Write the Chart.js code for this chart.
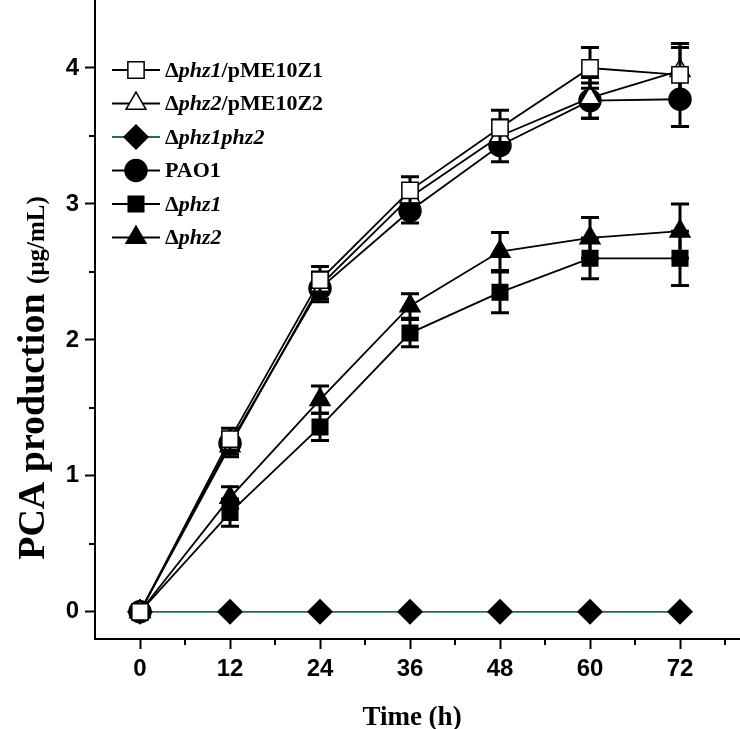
<!DOCTYPE html>
<html><head><meta charset="utf-8">
<script src="https://cdn.jsdelivr.net/npm/chart.js@4.4.0/dist/chart.umd.min.js"></script>
<style>html,body{margin:0;padding:0;background:#fff}canvas{display:block}</style>
</head><body><canvas id="c" width="740" height="729" style="width:740px;height:729px"></canvas>
<script>
// ---------- data ----------
const hours = [0, 12, 24, 36, 48, 60, 72];
const xTicks = [0, 12, 24, 36, 48, 60, 72];
const xMinorTicks = [6, 18, 30, 42, 54, 66, 78];
const yTicks = [0, 1, 2, 3, 4];
const yMinorTicks = [0.5, 1.5, 2.5, 3.5];

const comp1Values = [0, 1.27, 2.44, 3.10, 3.56, 4.00, 3.95];
const comp1Err    = [0, 0.08, 0.10, 0.10, 0.13, 0.15, 0.20];
const comp2Values = [0, 1.22, 2.40, 3.05, 3.50, 3.78, 3.98];
const comp2Err    = [0, 0.08, 0.10, 0.08, 0.12, 0.15, 0.20];
const doubleValues = [0, 0, 0, 0, 0, 0, 0];
const doubleErr    = [0, 0, 0, 0, 0, 0, 0];
const pao1Values = [0, 1.24, 2.38, 2.95, 3.43, 3.76, 3.77];
const pao1Err    = [0, 0.08, 0.10, 0.09, 0.12, 0.13, 0.20];
const phz1Values = [0, 0.73, 1.36, 2.05, 2.35, 2.60, 2.60];
const phz1Err    = [0, 0.10, 0.10, 0.10, 0.15, 0.15, 0.20];
const phz2Values = [0, 0.84, 1.56, 2.25, 2.65, 2.75, 2.80];
const phz2Err    = [0, 0.08, 0.10, 0.09, 0.14, 0.15, 0.20];

// legend label pieces: [text, italic?]
const comp1Label = [['Δ', false], ['phz1', true], ['/pME10Z1', false]];
const comp2Label = [['Δ', false], ['phz2', true], ['/pME10Z2', false]];
const doubleLabel = [['Δ', false], ['phz1phz2', true]];
const pao1Label = [['PAO1', false]];
const phz1Label = [['Δ', false], ['phz1', true]];
const phz2Label = [['Δ', false], ['phz2', true]];

const xTitle = 'Time (h)';
const yTitleMain = 'PCA production ';
const yTitleUnit = '(μg/mL)';

// ---------- chart ----------
const SERIF = '"Liberation Serif", "Times New Roman", serif';
const SANS = '"Liberation Sans", Arial, sans-serif';

function ds(values, err, label, style, radius, fill, lineColor) {
  return {
    data: hours.map((h, i) => ({x: h, y: values[i]})),
    errors: err,
    legendParts: label,
    borderColor: lineColor || '#000',
    borderWidth: 1.8,
    tension: 0,
    pointStyle: style,
    pointRadius: radius,
    pointHoverRadius: radius,
    pointBackgroundColor: fill,
    pointBorderColor: '#000',
    pointBorderWidth: 1.5,
    clip: false
  };
}

const datasets = [
  ds(comp1Values, comp1Err, comp1Label, 'rect', 11.5, '#fff'),
  ds(comp2Values, comp2Err, comp2Label, 'triangle', 11.5, '#fff'),
  ds(doubleValues, doubleErr, doubleLabel, 'rectRot', 12, '#000', '#1f6a6a'),
  ds(pao1Values, pao1Err, pao1Label, 'circle', 11, '#000'),
  ds(phz1Values, phz1Err, phz1Label, 'rect', 11, '#000'),
  ds(phz2Values, phz2Err, phz2Label, 'triangle', 11.5, '#000')
];

const errorBarPlugin = {
  id: 'errorBars',
  beforeDatasetDraw(chart, args) {
    const dsx = chart.data.datasets[args.index];
    const x = chart.scales.x, y = chart.scales.y, ctx = chart.ctx;
    ctx.save();
    ctx.strokeStyle = '#000';
    ctx.lineWidth = 3;
    dsx.data.forEach((p, i) => {
      const e = dsx.errors[i];
      if (!e) return;
      const px = x.getPixelForValue(p.x);
      const top = y.getPixelForValue(p.y + e), bot = y.getPixelForValue(p.y - e);
      ctx.beginPath();
      ctx.moveTo(px, top); ctx.lineTo(px, bot);
      ctx.moveTo(px - 9, top); ctx.lineTo(px + 9, top);
      ctx.moveTo(px - 9, bot); ctx.lineTo(px + 9, bot);
      ctx.stroke();
    });
    ctx.restore();
  }
};

const minorTickPlugin = {
  id: 'minorTicks',
  afterDraw(chart) {
    const ctx = chart.ctx, x = chart.scales.x, y = chart.scales.y, a = chart.chartArea;
    ctx.save();
    ctx.strokeStyle = '#000';
    ctx.lineWidth = 2;
    ctx.beginPath();
    xMinorTicks.forEach(v => {
      const px = Math.round(x.getPixelForValue(v));
      ctx.moveTo(px, a.bottom); ctx.lineTo(px, a.bottom + 6);
    });
    yMinorTicks.forEach(v => {
      const py = Math.round(y.getPixelForValue(v));
      ctx.moveTo(a.left, py); ctx.lineTo(a.left - 6, py);
    });
    ctx.stroke();
    ctx.restore();
  }
};

const legendPlugin = {
  id: 'customLegend',
  afterDraw(chart) {
    const ctx = chart.ctx;
    const x0 = 112, x1 = 160, xm = 136, tx = 165, y0 = 70, dy = 33.5;
    chart.data.datasets.forEach((d, i) => {
      const yy = y0 + dy * i;
      ctx.save();
      ctx.strokeStyle = d.borderColor;
      ctx.lineWidth = 2;
      ctx.beginPath(); ctx.moveTo(x0, yy); ctx.lineTo(x1, yy); ctx.stroke();
      ctx.fillStyle = d.pointBackgroundColor;
      ctx.strokeStyle = '#000';
      ctx.lineWidth = 1.5;
      Chart.helpers.drawPoint(ctx, {pointStyle: d.pointStyle, radius: d.pointRadius, rotation: 0, borderWidth: 1.5}, xm, yy);
      ctx.restore();
      ctx.save();
      ctx.fillStyle = '#000';
      ctx.textBaseline = 'middle';
      let cx = tx;
      d.legendParts.forEach(([t, it]) => {
        ctx.font = (it ? 'italic ' : '') + 'bold 22px ' + SERIF;
        ctx.fillText(t, cx, yy + 1);
        cx += ctx.measureText(t).width;
      });
      ctx.restore();
    });
  }
};

const titlePlugin = {
  id: 'axisTitles',
  afterDraw(chart) {
    const ctx = chart.ctx;
    ctx.save();
    ctx.fillStyle = '#000';
    ctx.textBaseline = 'alphabetic';
    ctx.textAlign = 'center';
    ctx.font = 'bold 27px ' + SERIF;
    ctx.fillText(xTitle, 412, 725);
    ctx.restore();

    ctx.save();
    ctx.translate(44, 378);
    ctx.rotate(-Math.PI / 2);
    ctx.fillStyle = '#000';
    ctx.textBaseline = 'alphabetic';
    ctx.font = 'bold 38px ' + SERIF;
    const w1 = ctx.measureText(yTitleMain).width;
    ctx.font = 'bold 25px ' + SERIF;
    const w2 = ctx.measureText(yTitleUnit).width;
    let sx = -(w1 + w2) / 2;
    ctx.font = 'bold 38px ' + SERIF;
    ctx.fillText(yTitleMain, sx, 0);
    ctx.font = 'bold 25px ' + SERIF;
    ctx.fillText(yTitleUnit, sx + w1, 0);
    ctx.restore();
  }
};

new Chart(document.getElementById('c'), {
  type: 'line',
  data: {datasets},
  options: {
    responsive: false,
    animation: false,
    devicePixelRatio: 1,
    layout: {autoPadding: false, padding: {top: 0, right: 0, left: 0, bottom: 0}},
    plugins: {legend: {display: false}, tooltip: {enabled: false}},
    scales: {
      x: {
        type: 'linear', min: -6, max: 80,
        afterFit(s) { s.height = 90; s.paddingLeft = 0; s.paddingRight = 0; },
        afterBuildTicks(s) { s.ticks = xTicks.map(v => ({value: v})); },
        border: {display: true, color: '#000', width: 2},
        grid: {display: true, drawOnChartArea: false, drawTicks: true, tickLength: 10, tickColor: '#000', tickWidth: 2, color: '#000'},
        ticks: {color: '#000', font: {family: SANS, size: 24, weight: 'bold'}, padding: 6, maxRotation: 0, autoSkip: false}
      },
      y: {
        type: 'linear', min: -0.2, max: 4.5,
        afterFit(s) { s.width = 95; s.paddingTop = 0; s.paddingBottom = 0; },
        afterBuildTicks(s) { s.ticks = yTicks.map(v => ({value: v})); },
        border: {display: true, color: '#000', width: 2},
        grid: {display: true, drawOnChartArea: false, drawTicks: true, tickLength: 10, tickColor: '#000', tickWidth: 2, color: '#000'},
        ticks: {color: '#000', font: {family: SANS, size: 24, weight: 'bold'}, padding: 6, autoSkip: false}
      }
    }
  },
  plugins: [errorBarPlugin, minorTickPlugin, legendPlugin, titlePlugin]
});
</script>
</body></html>
